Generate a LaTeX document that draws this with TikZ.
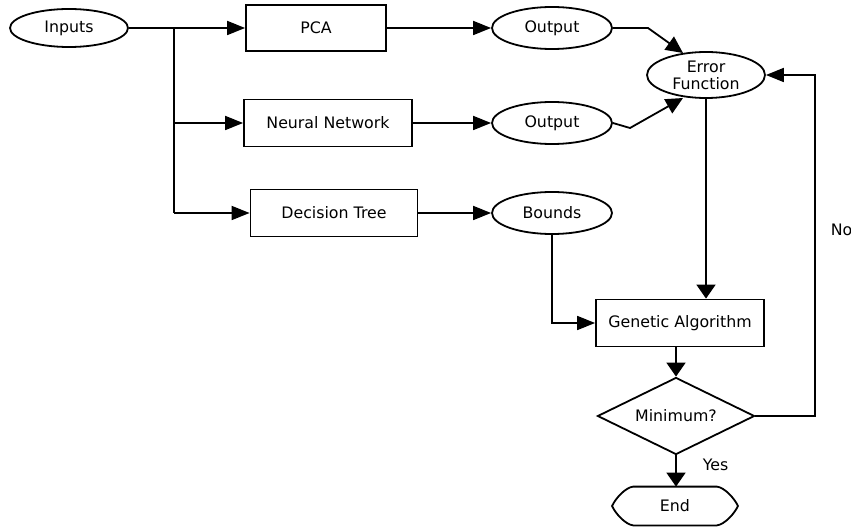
\documentclass[tikz,border=0pt]{standalone}
\usepackage{fontspec}
\setmainfont{DejaVu Sans}
\usetikzlibrary{arrows.meta,shapes.geometric,calc}
\begin{document}
\begin{tikzpicture}[x=1pt,y=-1pt,
  line width=1.8pt,
  font=\fontsize{15.8}{17}\selectfont,
  ell/.style={draw,ellipse,inner sep=0pt},
  box/.style={draw,rectangle,inner sep=0pt},
  arr/.style={-{Triangle[length=18pt,width=14pt]}},
  varr/.style={-{Triangle[length=14pt,width=19pt]}},
  darr/.style={-{Triangle[length=17pt,width=16pt]}},
  lab/.style={inner sep=0pt}]
\useasboundingbox (0,0) rectangle (851,529);
\node[ell,minimum width=118pt,minimum height=38pt] (in) at (69,28) {Inputs};
\node[box,minimum width=140pt,minimum height=46pt] (pca) at (316,28) {PCA};
\node[box,minimum width=168pt,minimum height=47pt] (nn) at (328,123) {Neural Network};
\node[box,minimum width=167pt,minimum height=47pt] (dt) at (334,213) {Decision Tree};
\node[ell,minimum width=120pt,minimum height=42pt] (o1) at (552,28) {Output};
\node[ell,minimum width=120pt,minimum height=42pt] (o2) at (552,123) {Output};
\node[ell,minimum width=120pt,minimum height=42pt] (bd) at (552,213) {Bounds};
\node[ell,minimum width=118pt,minimum height=46pt,align=center] (ef) at (706,75) {Error\\Function};
\node[box,minimum width=168pt,minimum height=47pt] (ga) at (680,323) {Genetic Algorithm};
\node[draw,diamond,aspect=2.04,minimum width=157pt,minimum height=77pt,inner sep=0pt] (mn) at (676,416) {Minimum?};
\node[minimum width=124pt,minimum height=37pt,inner sep=0pt] (end) at (675,506) {End};
\draw ($(end.north west)+(21,0)$) -- ($(end.north east)+(-21,0)$)
  .. controls ($(end.north east)+(-13,1)$) and ($(end.east)+(-3,-7)$) .. (end.east)
  .. controls ($(end.east)+(-3,7)$) and ($(end.south east)+(-13,-1)$) .. ($(end.south east)+(-21,0)$)
  -- ($(end.south west)+(21,0)$)
  .. controls ($(end.south west)+(13,-1)$) and ($(end.west)+(3,7)$) .. (end.west)
  .. controls ($(end.west)+(3,-7)$) and ($(end.north west)+(13,1)$) .. ($(end.north west)+(21,0)$) -- cycle;
\coordinate (t0) at (174,28);
\coordinate (t1) at (174,123);
\coordinate (t2) at (174,213);
\draw[arr] (in) -- (pca);
\draw (t0) -- (t2);
\draw[arr] (t1) -- (nn);
\draw[arr] (t2) -- (dt);
\draw[arr] (pca) -- (o1);
\draw[arr] (nn) -- (o2);
\draw[arr] (dt) -- (bd);
\coordinate (k1) at (648,28);
\coordinate (k2) at (630,128);
\draw[darr] (o1.east) -- (k1) -- (683,53);
\draw[darr] (o2.east) -- (k2) -- (683,98);
\coordinate (b1) at (552,323);
\draw[arr] (bd.south) -- (b1) -- (ga.west);
\draw[varr] (ef.south) -- (ef.south |- ga.north);
\draw[varr] (ga.south -| mn.north) -- (mn.north);
\coordinate (r1) at (815,416);
\coordinate (r2) at (815,75);
\draw[arr] (mn.east) -- (r1) -- (r2) -- (ef.east);
\draw[varr] (mn.south) -- (end.north -| mn.south);
\node[lab,anchor=west] (no) at (830,230) {No};
\node[lab,anchor=west] (yes) at (702,465) {Yes};
\end{tikzpicture}
\end{document}
